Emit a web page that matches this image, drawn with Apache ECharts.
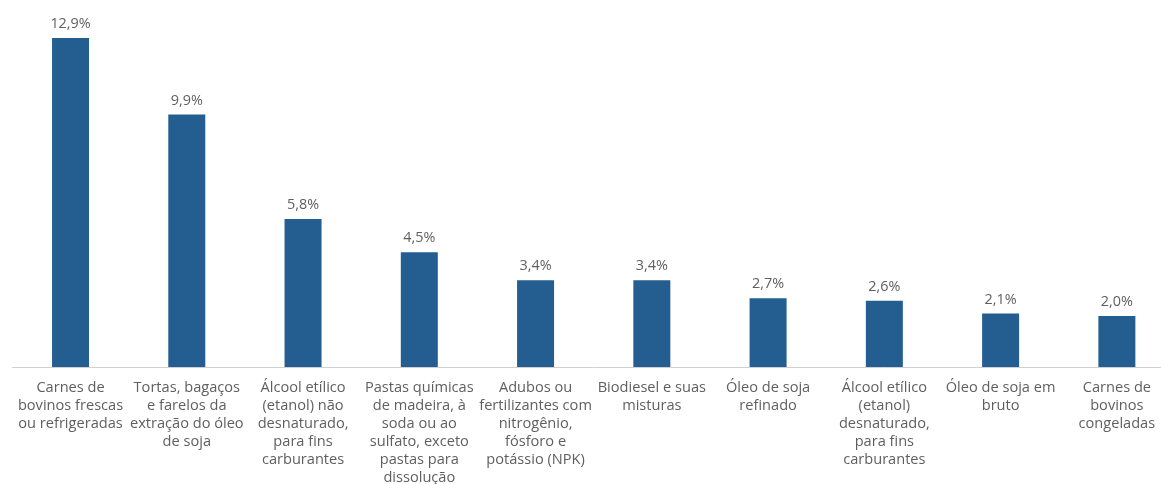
<!DOCTYPE html>
<html>
<head>
<meta charset="utf-8">
<script src="https://cdn.jsdelivr.net/npm/echarts@6/dist/echarts.min.js"></script>
<style>html,body{margin:0;padding:0;background:#fff;overflow:hidden;}#c{width:1175px;height:484px;}</style>
</head>
<body>
<div id="c"></div>
<script>
const categories = [
  "Carnes de\nbovinos frescas\nou refrigeradas",
  "Tortas, bagaços\ne farelos da\nextração do óleo\nde soja",
  "Álcool etílico\n(etanol) não\ndesnaturado,\npara fins\ncarburantes",
  "Pastas químicas\nde madeira, à\nsoda ou ao\nsulfato, exceto\npastas para\ndissolução",
  "Adubos ou\nfertilizantes com\nnitrogênio,\nfósforo e\npotássio (NPK)",
  "Biodiesel e suas\nmisturas",
  "Óleo de soja\nrefinado",
  "Álcool etílico\n(etanol)\ndesnaturado,\npara fins\ncarburantes",
  "Óleo de soja em\nbruto",
  "Carnes de\nbovinos\ncongeladas"
];
const values = [12.9, 9.9, 5.8, 4.5, 3.4, 3.4, 2.7, 2.6, 2.1, 2.0];

const chart = echarts.init(document.getElementById('c'));
chart.setOption({
  animation: false,
  grid: { left: 12.4, right: 0, top: 10, bottom: 117, containLabel: false, outerBoundsMode: 'none' },
  xAxis: {
    type: 'category',
    data: categories,
    axisLine: { lineStyle: { color: '#d0d0d0', width: 1 } },
    axisTick: { show: false },
    axisLabel: {
      interval: 0,
      margin: 12,
      color: '#5f5f5f',
      fontFamily: 'Open Sans',
      fontSize: 14.6,
      lineHeight: 18,
      align: 'center'
    }
  },
  yAxis: {
    type: 'value',
    min: 0, max: 14,
    show: false,
    splitLine: { show: false }
  },
  series: [{
    type: 'bar',
    data: values,
    barWidth: 37,
    itemStyle: { color: '#245E91' },
    label: {
      show: true,
      position: 'top',
      distance: 7,
      color: '#5f5f5f',
      fontFamily: 'Open Sans',
      fontSize: 14.4,
      formatter: p => p.value.toFixed(1).replace('.', ',') + '%'
    }
  }]
});
</script>
</body>
</html>
